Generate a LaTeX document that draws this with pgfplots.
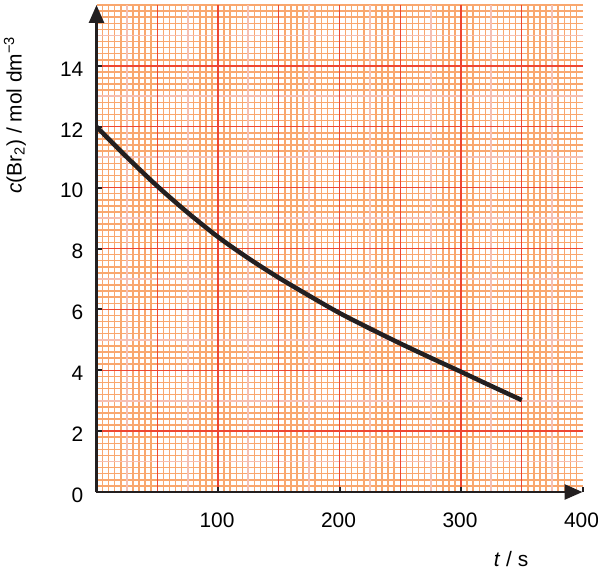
\documentclass[border=0pt]{standalone}
\usepackage{pgfplots}
\pgfplotsset{compat=1.18}
\usepackage{fontspec}
\setmainfont{Liberation Sans}
\usetikzlibrary{arrows.meta}
\definecolor{ink}{HTML}{231F20}
\definecolor{gridred}{HTML}{EE4733}
\definecolor{palec}{HTML}{F6BFB2}
\definecolor{minorc}{HTML}{F9A76E}
\pgfplotsset{
  gridonly/.style={
    scale only axis, width=486bp, height=487bp,
    xmin=0, xmax=400, ymin=0, ymax=16,
    axis line style={draw=none},
    xticklabels={}, yticklabels={},
    major tick length=0pt, minor tick length=0pt,
    tick style={draw=none},
    xmajorgrids=true, ymajorgrids=true,
  }
}
\begin{document}
\begin{tikzpicture}[font=\fontsize{21}{25}\selectfont]
% minor lines every 5 s
\begin{axis}[gridonly,
  xtick={5,10,...,395}, ytick=\empty,
  x grid style={draw=minorc, line width=1.45bp},
]
\end{axis}
% minor lines every 0.2 units
\begin{axis}[gridonly,
  xtick=\empty, ytick={0.2,0.4,...,15.9},
  y grid style={draw=minorc, line width=1.5bp},
]
\end{axis}
% medium lines every 25 s and 1 unit
\begin{axis}[gridonly,
  xtick={25,75,...,375}, ytick={1,3,...,15},
  x grid style={draw=palec, line width=1.8bp},
  y grid style={draw=palec, line width=1.8bp},
]
\end{axis}
% main axis
\begin{axis}[
  name=ax,
  scale only axis, width=486bp, height=487bp,
  xmin=0, xmax=400, ymin=0, ymax=16,
  axis lines=left,
  axis line style={line width=2.6bp, draw=ink, -{Triangle[length=18bp,width=15bp]}},
  xtick={50,100,...,350}, ytick={2,4,...,14},
  grid=major,
  major grid style={draw=gridred, line width=1.4bp},
  xticklabels={}, yticklabels={},
  major tick length=0pt,
  tick align=inside,
  extra x ticks={100,200,300,400},
  extra x tick labels={100,200,300,400},
  extra y ticks={0,2,4,6,8,10,12,14},
  extra y tick labels={0,2,4,6,8,10,12,14},
  extra tick style={grid=none, major tick length=5bp, tick style={draw=ink, line width=2bp}},
  xticklabel style={inner sep=0pt, anchor=north, yshift=-21bp, xshift=-1bp},
  yticklabel style={inner sep=0pt, anchor=east, xshift=-13bp, yshift=-3bp},
  xlabel={\textit{t} / s},
  ylabel={\textit{c}(Br\textsubscript{2}) / mol dm\textsuperscript{−3}},
  x label style={at={(axis description cs:0.853,-0.138)}, anchor=center, inner sep=0pt},
  y label style={at={(axis description cs:-0.168,0.774)}, anchor=center, inner sep=0pt},
]
\addplot[ink, line width=4.5bp, smooth] coordinates {
(0,12.0) (25,11.0) (50,10.05) (75,9.18) (100,8.38) (125,7.68) (150,7.04)
(175,6.45) (200,5.88) (225,5.37) (250,4.88) (275,4.41) (300,3.95)
(325,3.48) (350,3.02)
};
\end{axis}
\pgfresetboundingbox
\path ([shift={(-96.5bp,-85.2bp)}]ax.south west) rectangle ([shift={(15.5bp,5bp)}]ax.north east);
\end{tikzpicture}
\end{document}
